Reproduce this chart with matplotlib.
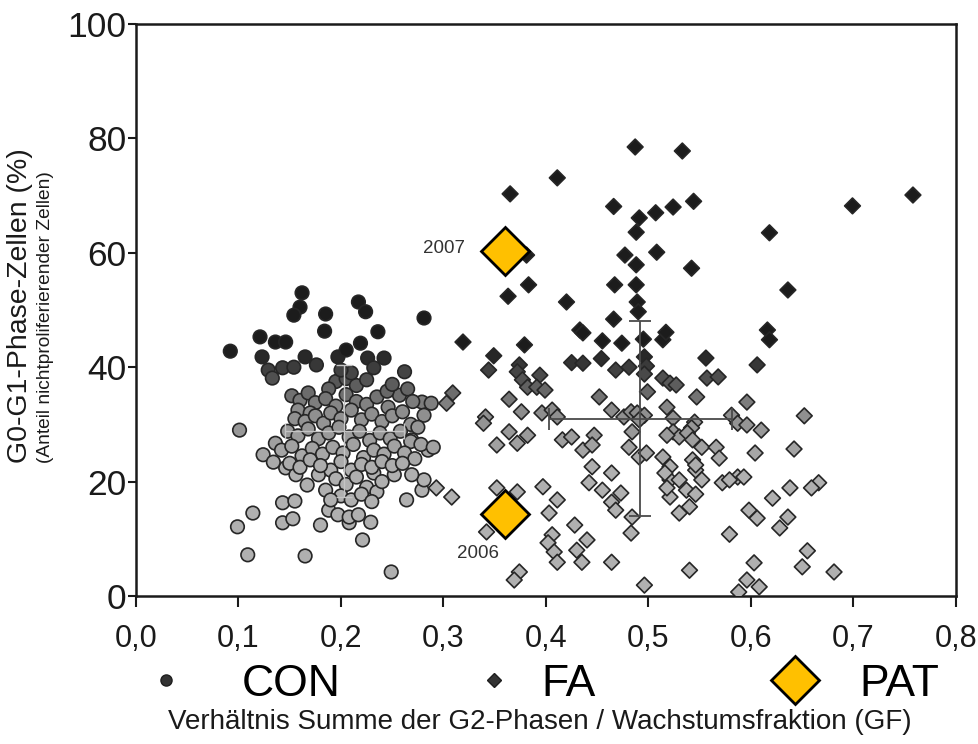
import matplotlib
matplotlib.use('Agg')
import matplotlib.pyplot as plt
from matplotlib import font_manager
from matplotlib.font_manager import FontProperties
from matplotlib.lines import Line2D
from matplotlib.colors import LinearSegmentedColormap, Normalize


def pick(fams):
    for f in fams:
        try:
            font_manager.findfont(FontProperties(family=f), fallback_to_default=False)
            return f
        except Exception:
            pass
    return 'DejaVu Sans'


REG = pick(['Liberation Sans', 'Arial', 'DejaVu Sans'])
NAR = pick(['Liberation Sans Narrow', 'Liberation Sans', 'DejaVu Sans'])

# ---------------- data ----------------
x_ticks = [0.0, 0.1, 0.2, 0.3, 0.4, 0.5, 0.6, 0.7, 0.8]
x_tick_labels = ['0,0', '0,1', '0,2', '0,3', '0,4', '0,5', '0,6', '0,7', '0,8']
y_ticks = [0, 20, 40, 60, 80, 100]

con_x = [0.092, 0.101, 0.099, 0.109, 0.114, 0.124, 0.136, 0.165, 0.249, 0.143, 0.155, 0.143, 0.153,
         0.180, 0.208, 0.229, 0.221, 0.264, 0.279, 0.281, 0.252, 0.269, 0.232, 0.188, 0.197, 0.208,
         0.217, 0.146, 0.156, 0.167, 0.134, 0.178, 0.190, 0.285, 0.269,
         0.162, 0.160, 0.154, 0.185, 0.184, 0.217, 0.224, 0.281, 0.236, 0.121, 0.136, 0.146, 0.123,
         0.165, 0.176, 0.197, 0.205, 0.219, 0.226, 0.242, 0.262, 0.129, 0.133, 0.143, 0.154, 0.232,
         0.257, 0.246, 0.279, 0.288, 0.281,
         0.195, 0.205, 0.215, 0.225, 0.188, 0.210, 0.200,
         0.152, 0.160, 0.168, 0.175, 0.185, 0.195, 0.205, 0.215, 0.225, 0.235, 0.245, 0.250, 0.265,
         0.270, 0.158, 0.170,
         0.155, 0.165, 0.175, 0.183, 0.190, 0.200, 0.210, 0.220, 0.230, 0.240, 0.250, 0.260, 0.268,
         0.275,
         0.148, 0.158, 0.168, 0.178, 0.188, 0.198, 0.208, 0.218, 0.228, 0.238, 0.248, 0.258, 0.268,
         0.278, 0.290,
         0.142, 0.152, 0.162, 0.172, 0.182, 0.192, 0.202, 0.212, 0.222, 0.232, 0.242, 0.252, 0.262,
         0.272,
         0.150, 0.160, 0.170, 0.180, 0.200, 0.210, 0.220, 0.230, 0.240, 0.250, 0.260,
         0.195, 0.205, 0.215, 0.225, 0.235, 0.200, 0.210, 0.220, 0.230, 0.185, 0.190, 0.240]
con_y = [42.8, 29.0, 12.1, 7.2, 14.5, 24.7, 26.7, 7.0, 4.2, 16.3, 16.6, 12.8, 13.5,
         12.4, 12.8, 12.9, 9.8, 16.8, 18.5, 20.3, 21.2, 21.2, 21.5, 15.0, 14.2, 13.8,
         14.2, 22.4, 21.2, 19.4, 23.4, 21.2, 22.0, 25.5, 27.3,
         53.0, 50.5, 49.1, 49.3, 46.3, 51.4, 49.7, 48.6, 46.2, 45.3, 44.4, 44.4, 41.8,
         41.8, 40.4, 41.8, 43.0, 44.2, 41.6, 41.6, 39.2, 39.5, 38.1, 39.9, 40.0, 39.9,
         35.1, 33.0, 33.9, 33.7, 31.6,
         37.5, 38.0, 36.8, 37.8, 36.2, 39.0, 39.5,
         35.0, 34.2, 35.5, 33.8, 34.5, 33.2, 35.2, 34.0, 33.5, 34.8, 35.8, 37.0, 36.2,
         34.0, 32.5, 32.0,
         31.0, 30.5, 31.5, 30.2, 32.0, 31.0, 32.5, 30.8, 31.8, 30.5, 31.5, 32.2, 30.0,
         29.5,
         28.8, 28.0, 29.2, 27.5, 28.5, 29.5, 27.8, 28.8, 27.2, 28.5, 27.5, 28.8, 27.0,
         26.5, 26.0,
         25.5, 26.2, 24.5, 25.8, 24.8, 26.0, 25.0, 26.5, 24.2, 25.5, 24.8, 26.2, 25.0,
         24.0,
         23.2, 22.5, 23.8, 22.8, 23.5, 22.0, 23.0, 22.5, 23.5, 22.8, 23.2,
         20.5, 19.5, 20.8, 19.0, 18.2, 17.5, 16.8, 17.8, 16.5, 18.5, 16.8, 20.0]

fa_x = [0.365, 0.411, 0.487, 0.533, 0.466, 0.491, 0.488, 0.507, 0.524, 0.544, 0.477, 0.488, 0.508,
        0.542, 0.381, 0.383, 0.363, 0.420, 0.467, 0.488, 0.489, 0.490, 0.466, 0.699, 0.758, 0.618,
        0.636, 0.616, 0.618,
        0.433, 0.436, 0.455, 0.474, 0.495, 0.514, 0.517, 0.319, 0.349, 0.379, 0.344, 0.374, 0.372,
        0.377, 0.382, 0.394, 0.391, 0.399, 0.425, 0.436, 0.454, 0.468, 0.481, 0.496, 0.498, 0.496,
        0.556, 0.606, 0.557, 0.568, 0.547, 0.596, 0.652, 0.514, 0.521, 0.527, 0.499,
        0.364, 0.376, 0.396, 0.406, 0.411, 0.452, 0.341, 0.339, 0.309, 0.303, 0.464, 0.476, 0.483,
        0.489, 0.496, 0.491, 0.518, 0.524, 0.545, 0.542, 0.581, 0.587, 0.596, 0.610, 0.364, 0.382,
        0.416, 0.425, 0.447, 0.484, 0.524, 0.530, 0.538, 0.518, 0.543,
        0.352, 0.372, 0.436, 0.445, 0.481, 0.491, 0.498, 0.514, 0.552, 0.566, 0.569, 0.642, 0.604,
        0.543, 0.546,
        0.445, 0.442, 0.464, 0.455, 0.464, 0.468, 0.473, 0.397, 0.411, 0.403, 0.352, 0.372, 0.308,
        0.293, 0.521, 0.521, 0.521, 0.530, 0.537, 0.540, 0.530, 0.587, 0.593, 0.572, 0.579, 0.666,
        0.659, 0.638, 0.621, 0.546, 0.552, 0.516, 0.518, 0.546,
        0.484, 0.483, 0.428, 0.440, 0.430, 0.406, 0.402, 0.408, 0.411, 0.435, 0.464, 0.374, 0.369,
        0.496, 0.540, 0.342, 0.598, 0.606, 0.636, 0.628, 0.579, 0.655, 0.603, 0.650, 0.681, 0.596,
        0.608, 0.588]
fa_y = [70.3, 73.1, 78.5, 77.8, 68.1, 66.1, 63.6, 67.0, 68.0, 69.0, 59.6, 57.9, 60.1,
        57.3, 59.6, 54.4, 52.4, 51.4, 54.4, 54.4, 51.4, 49.7, 48.4, 68.2, 70.1, 63.5,
        53.5, 46.5, 44.8,
        46.5, 46.0, 44.6, 44.2, 44.9, 44.8, 46.1, 44.4, 42.0, 43.9, 39.5, 40.4, 39.2,
        37.8, 36.5, 38.6, 36.5, 36.0, 40.8, 40.7, 41.5, 39.5, 40.0, 41.8, 40.2, 38.8,
        41.6, 40.4, 38.1, 38.3, 34.8, 33.9, 31.5, 38.1, 37.2, 36.9, 35.7,
        34.4, 32.2, 32.0, 32.5, 31.3, 34.8, 31.3, 30.2, 35.5, 33.7, 32.5, 31.3, 32.2,
        32.0, 31.6, 30.8, 33.0, 31.1, 30.4, 29.4, 31.6, 30.2, 29.9, 29.0, 28.7, 28.1,
        27.3, 27.8, 28.1, 28.7, 28.7, 27.8, 28.5, 28.1, 27.3,
        26.4, 26.7, 25.5, 26.4, 26.0, 24.3, 25.0, 24.3, 26.0, 26.0, 24.1, 25.7, 25.0,
        23.8, 22.0,
        22.6, 19.8, 21.5, 18.5, 16.4, 15.0, 18.0, 19.1, 16.8, 14.5, 18.9, 18.2, 17.3,
        18.9, 22.6, 20.3, 17.3, 20.3, 18.5, 15.6, 14.5, 20.8, 20.8, 19.8, 20.3, 19.8,
        18.9, 18.9, 17.1, 22.9, 20.3, 21.5, 18.9, 17.8,
        13.8, 11.0, 12.4, 9.8, 8.0, 10.7, 9.3, 7.7, 5.9, 5.9, 5.9, 4.2, 2.8,
        1.9, 4.5, 11.2, 15.0, 13.6, 13.8, 11.9, 10.8, 7.9, 5.8, 5.1, 4.2, 2.8,
        1.6, 0.7]

pat_x = [0.360, 0.360]
pat_y = [60.4, 14.3]
pat_labels = ['2007', '2006']

# group means +/- SD (crosses)
fa_mean = (0.492, 31.0)
fa_sd = (0.089, 17.0)
con_mean = (0.203, 28.8)
con_sd = (0.058, 11.5)

series_names = ['CON', 'FA', 'PAT']

# ---------------- figure ----------------
fig = plt.figure(figsize=(9.79, 7.44), dpi=100)
fig.patch.set_facecolor('white')
ax = fig.add_axes([136 / 979, 1 - 596 / 744, 820 / 979, 572 / 744])
ax.set_xlim(0, 0.8)
ax.set_ylim(0, 100)

cmap = LinearSegmentedColormap.from_list('scan', ['#b0b0b0', '#8c8c8c', '#1c1c1c'])
norm = Normalize(vmin=22, vmax=43, clip=True)

ax.scatter(con_x, con_y, s=95, marker='o', c=con_y, cmap=cmap, norm=norm,
           edgecolors='#262626', linewidths=1.2, zorder=3)
ax.scatter(fa_x, fa_y, s=64, marker='D', c=fa_y, cmap=cmap, norm=norm,
           edgecolors='#262626', linewidths=1.2, zorder=3)

ax.errorbar([con_mean[0]], [con_mean[1]], xerr=[con_sd[0]], yerr=[con_sd[1]], fmt='none',
            ecolor='#c4c4c4', elinewidth=1.0, capsize=6, capthick=1.0, zorder=4)
ax.errorbar([fa_mean[0]], [fa_mean[1]], xerr=[fa_sd[0]], yerr=[fa_sd[1]], fmt='none',
            ecolor='#4a4a4a', elinewidth=1.3, capsize=8, capthick=1.3, zorder=4)

ax.plot(pat_x, pat_y, linestyle='none', marker='D', ms=24, mfc='#FFC000', mec='black',
        mew=2.0, zorder=6)

ax.text(pat_x[0] - 0.039, pat_y[0] + 0.3, pat_labels[0], ha='right', va='center',
        fontsize=13.5, family=NAR, color='#333333', zorder=7)
ax.text(pat_x[1] - 0.026, pat_y[1] - 6.8, pat_labels[1], ha='center', va='center',
        fontsize=13.5, family=NAR, color='#333333', zorder=7)

ax.set_xticks(x_ticks)
ax.set_xticklabels(x_tick_labels, fontsize=22, family=NAR)
ax.set_yticks(y_ticks)
ax.set_yticklabels([str(v) for v in y_ticks], fontsize=25.5, family=REG)
ax.tick_params(axis='x', direction='out', length=8, width=1.5, pad=12, colors='#1a1a1a')
ax.tick_params(axis='y', direction='out', length=6, width=1.5, pad=1, colors='#1a1a1a')
for sp in ax.spines.values():
    sp.set_linewidth(1.8)
    sp.set_color('#1a1a1a')

ax.set_xlabel('Verhältnis Summe der G2-Phasen / Wachstumsfraktion (GF)', fontsize=20,
              family=NAR, color='#1a1a1a')
ax.xaxis.set_label_coords(0.493, (596 - 709) / 572)

fig.text(20 / 979, 1 - 306 / 744, 'G0-G1-Phase-Zellen (%)', rotation=90, ha='center',
         va='center', fontsize=20.5, family=REG, color='#1a1a1a')
fig.text(46 / 979, 1 - 317 / 744, '(Anteil nichtproliferierender Zellen)', rotation=90,
         ha='center', va='center', fontsize=13.8, family=REG, color='#1a1a1a')

# legend (three entries placed like the original)
handles = [
    Line2D([], [], linestyle='none', marker='o', ms=8, mfc='#333333', mec='#1e1e1e'),
    Line2D([], [], linestyle='none', marker='D', ms=7, mfc='#333333', mec='#1e1e1e'),
    Line2D([], [], linestyle='none', marker='D', ms=24, mfc='#FFC000', mec='black', mew=2.0),
]
leg_fs = 32
leg_pos = [(144 / 979, 1.2), (472 / 979, 0.55), (773 / 979, 0.95)]
for h, name, (xp, pad) in zip(handles, series_names, leg_pos):
    fig.legend(handles=[h], labels=[name], loc='center left', bbox_to_anchor=(xp, 1 - 684 / 744),
               bbox_transform=fig.transFigure, frameon=False, handlelength=1.0,
               handletextpad=pad, borderpad=0, borderaxespad=0,
               prop={'family': NAR, 'size': leg_fs})

fig.savefig('out.png', dpi=100, facecolor='white')
